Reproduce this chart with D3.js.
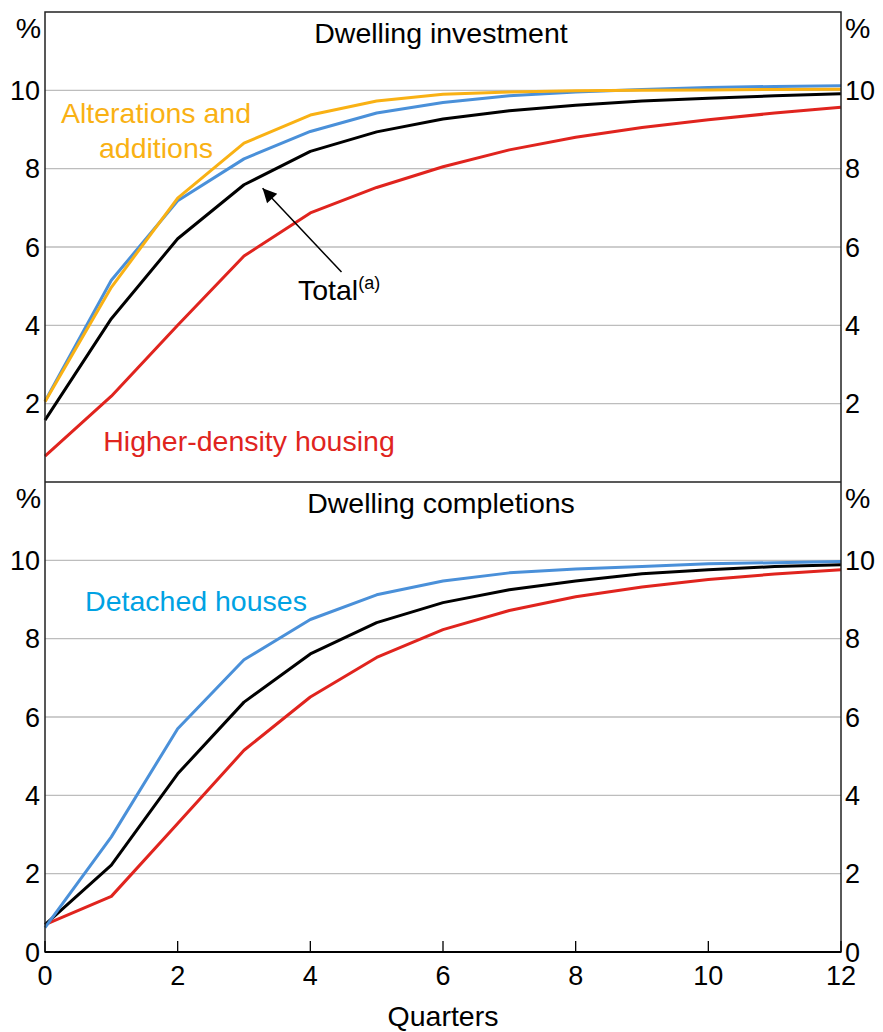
<!DOCTYPE html>
<html><head><meta charset="utf-8">
<script src="https://cdn.jsdelivr.net/npm/d3@7"></script>
<style>body{margin:0;background:#fff}svg text{font-family:Arial,"Liberation Sans",sans-serif}</style>
</head><body><svg id="c" width="883" height="1032"></svg>
<script>
const quarters = [0,1,2,3,4,5,6,7,8,9,10,11,12];
const xTicks = [0,2,4,6,8,10,12];
const yTicks = [2,4,6,8,10];
// Dwelling investment
const invAlterations = [2.05,4.97,7.25,8.65,9.37,9.73,9.90,9.96,9.99,10.00,10.01,10.02,10.03];
const invDetached    = [2.06,5.15,7.18,8.25,8.95,9.42,9.69,9.86,9.96,10.02,10.07,10.10,10.12];
const invTotal       = [1.58,4.17,6.21,7.59,8.44,8.94,9.27,9.48,9.62,9.73,9.80,9.86,9.91];
const invHigher      = [0.66,2.19,4.00,5.77,6.87,7.52,8.05,8.48,8.80,9.05,9.25,9.42,9.57];
// Dwelling completions
const compDetached = [0.62,2.94,5.70,7.46,8.49,9.12,9.47,9.68,9.78,9.84,9.91,9.94,9.97];
const compTotal    = [0.70,2.22,4.55,6.38,7.61,8.41,8.92,9.25,9.47,9.66,9.76,9.84,9.89];
const compHigher   = [0.70,1.42,3.28,5.15,6.51,7.52,8.23,8.72,9.07,9.32,9.51,9.65,9.76];

const ORANGE="#f9b114", BLUE="#4a90d9", BLUETXT="#00a2e3", RED="#e0241e", BLACK="#000";
const svg = d3.select("#c");
const L=45, R=841;
const x = d3.scaleLinear().domain([0,12]).range([L,R]);
const panels = [
  {title:"Dwelling investment", top:12, bottom:482, zero:false,
   series:[[invHigher,RED],[invTotal,BLACK],[invDetached,BLUE],[invAlterations,ORANGE]]},
  {title:"Dwelling completions", top:482, bottom:952, zero:true,
   series:[[compHigher,RED],[compTotal,BLACK],[compDetached,BLUE]]}
];
const FS=27, TS=28.5;
panels.forEach((p,i)=>{
  const y = d3.scaleLinear().domain([0,12]).range([p.bottom,p.top]);
  p.y=y;
  const g = svg.append("g");
  g.selectAll("line.grid").data(yTicks).join("line")
    .attr("x1",L).attr("x2",R).attr("y1",d=>y(d)).attr("y2",d=>y(d))
    .attr("stroke","#bdbdbd").attr("stroke-width",1.3);
  const labs = p.zero ? [0,...yTicks] : yTicks;
  g.selectAll("text.yl").data(labs).join("text")
    .attr("x",L-5).attr("y",d=>y(d)).attr("dy","0.36em").attr("text-anchor","end")
    .attr("font-size",FS).text(d=>d);
  g.selectAll("text.yr").data(labs).join("text")
    .attr("x",R+4).attr("y",d=>y(d)).attr("dy","0.36em").attr("text-anchor","start")
    .attr("font-size",FS).text(d=>d);
  g.append("text").attr("x",L-4).attr("y",p.top+26).attr("text-anchor","end").attr("font-size",TS).text("%");
  g.append("text").attr("x",R+4).attr("y",p.top+26).attr("text-anchor","start").attr("font-size",TS).text("%");
  g.append("text").attr("x",(L+R)/2-2).attr("y",p.top+31).attr("text-anchor","middle").attr("font-size",TS).text(p.title);
  const line = d3.line().x((d,j)=>x(quarters[j])).y(d=>y(d));
  p.series.forEach(([vals,col])=>{
    g.append("path").attr("d",line(vals)).attr("fill","none").attr("stroke",col)
      .attr("stroke-width",3).attr("stroke-linejoin","round");
  });
});
// frames
svg.append("rect").attr("x",L).attr("y",12).attr("width",R-L).attr("height",952-12)
  .attr("fill","none").attr("stroke","#222").attr("stroke-width",1.5);
svg.append("line").attr("x1",L).attr("x2",R).attr("y1",482).attr("y2",482).attr("stroke","#222").attr("stroke-width",1.5);
svg.append("line").attr("x1",L).attr("x2",R).attr("y1",952).attr("y2",952).attr("stroke","#000").attr("stroke-width",2);
// bottom ticks
svg.selectAll("line.xt").data(xTicks).join("line")
  .attr("x1",d=>x(d)).attr("x2",d=>x(d)).attr("y1",952).attr("y2",941).attr("stroke","#000").attr("stroke-width",1.3);
svg.selectAll("text.xl").data(xTicks).join("text")
  .attr("x",d=>x(d)).attr("y",985).attr("text-anchor","middle").attr("font-size",FS).text(d=>d);
svg.append("text").attr("x",443).attr("y",1026).attr("text-anchor","middle").attr("font-size",TS).text("Quarters");

// labels
const y1 = panels[0].y;
svg.append("text").attr("x",156).attr("y",123).attr("text-anchor","middle").attr("font-size",TS).attr("fill",ORANGE).text("Alterations and");
svg.append("text").attr("x",156).attr("y",158).attr("text-anchor","middle").attr("font-size",TS).attr("fill",ORANGE).text("additions");
svg.append("text").attr("x",249).attr("y",451).attr("text-anchor","middle").attr("font-size",TS).attr("fill",RED).text("Higher-density housing");
svg.append("text").attr("x",196).attr("y",611).attr("text-anchor","middle").attr("font-size",TS).attr("fill",BLUETXT).text("Detached houses");
const tt = svg.append("text").attr("x",298).attr("y",300).attr("font-size",TS).attr("fill","#000");
tt.append("tspan").text("Total");
tt.append("tspan").attr("font-size",18).attr("dy",-11).text("(a)");
// arrow
svg.append("defs").append("marker").attr("id","ah").attr("viewBox","0 0 10 10").attr("refX",10).attr("refY",5)
  .attr("markerWidth",18).attr("markerHeight",14).attr("markerUnits","userSpaceOnUse").attr("orient","auto")
  .append("path").attr("d","M0,0L10,5L0,10z").attr("fill","#000");
svg.append("line").attr("x1",x(4.47)).attr("y1",y1(5.36)).attr("x2",x(3.28)).attr("y2",y1(7.5))
  .attr("stroke","#000").attr("stroke-width",1.5).attr("marker-end","url(#ah)");
</script></body></html>
